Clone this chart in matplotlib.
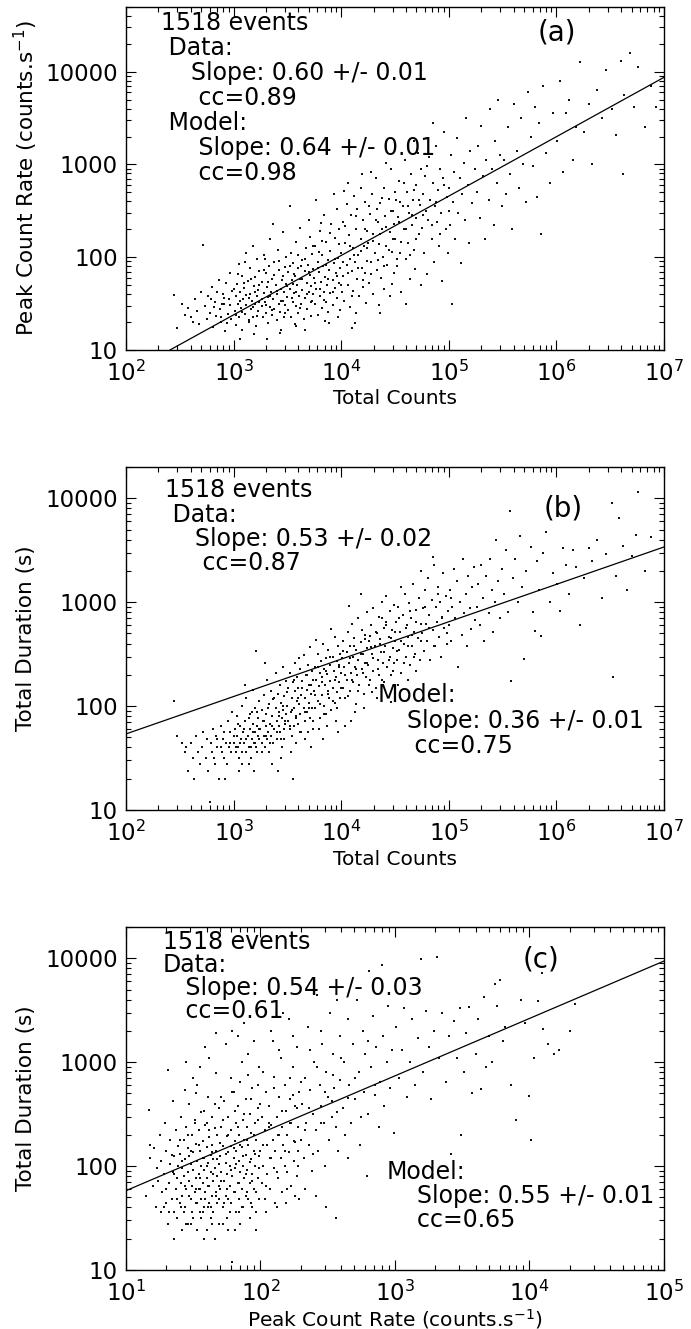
import matplotlib
matplotlib.use('Agg')
import matplotlib.pyplot as plt
import numpy as np
from matplotlib.ticker import LogLocator, NullFormatter, FuncFormatter

plt.rcParams.update({'font.family': 'DejaVu Sans', 'font.size': 14,
                     'mathtext.default': 'regular'})

# panel (a): (log10 total counts, log10 peak count rate)
pts_a = [
    (2.45, 1.59), (2.47, 1.24), (2.55, 1.38), (2.58, 1.45), (2.62, 1.30), (2.64, 1.55), (2.66, 1.42),
    (2.68, 1.28), (2.72, 2.13), (2.70, 1.62), (2.52, 1.50), (2.60, 1.35),
    (2.73, 1.47), (2.75, 1.33), (2.76, 1.58), (2.78, 1.40), (2.80, 1.68), (2.81, 1.25), (2.83, 1.52),
    (2.84, 1.37), (2.86, 1.75), (2.87, 1.44), (2.88, 1.30), (2.90, 1.60), (2.91, 1.49), (2.92, 1.20),
    (2.93, 1.72), (2.95, 1.39), (2.96, 1.55), (2.97, 1.83), (2.98, 1.33), (2.99, 1.64), (2.89, 1.50),
    (2.79, 1.55),
    (3.01, 1.42), (3.02, 1.58), (3.02, 1.27), (3.03, 1.71), (3.04, 1.50), (3.05, 1.93), (3.05, 1.36),
    (3.06, 1.62), (3.07, 1.45), (3.08, 1.80), (3.08, 1.21), (3.09, 1.55), (3.10, 1.67), (3.11, 1.39),
    (3.12, 2.05), (3.12, 1.48), (3.13, 1.74), (3.14, 1.30), (3.15, 1.60), (3.15, 1.88), (3.16, 1.44),
    (3.17, 1.53), (3.18, 2.12), (3.18, 1.35), (3.19, 1.69), (3.20, 1.49), (3.20, 1.79), (3.21, 1.26),
    (3.22, 1.58), (3.22, 1.98), (3.23, 1.42), (3.23, 1.65), (3.24, 1.52), (3.24, 1.85), (3.19, 1.17),
    (3.11, 1.95), (3.06, 1.12), (3.14, 1.56),
    (3.26, 1.47), (3.26, 1.73), (3.27, 1.35), (3.28, 1.61), (3.28, 2.02), (3.29, 1.52), (3.30, 1.83),
    (3.30, 1.40), (3.31, 1.68), (3.32, 1.29), (3.32, 1.57), (3.33, 1.91), (3.34, 1.46), (3.34, 2.20),
    (3.35, 1.63), (3.36, 1.38), (3.36, 1.77), (3.37, 1.55), (3.38, 1.95), (3.38, 1.44), (3.39, 1.70),
    (3.40, 1.32), (3.40, 1.60), (3.41, 2.08), (3.42, 1.50), (3.42, 1.86), (3.43, 1.41), (3.44, 1.66),
    (3.44, 1.22), (3.45, 1.75), (3.46, 1.53), (3.46, 2.27), (3.47, 1.62), (3.47, 1.36), (3.48, 1.89),
    (3.48, 1.48), (3.49, 1.71), (3.49, 2.00), (3.31, 1.12), (3.37, 2.36), (3.43, 1.18), (3.29, 1.98),
    (3.50, 1.57), (3.51, 1.84), (3.51, 1.43), (3.52, 1.66), (3.53, 2.05), (3.53, 1.35), (3.54, 1.75),
    (3.55, 1.52), (3.55, 1.94), (3.56, 1.61), (3.57, 1.28), (3.57, 1.80), (3.58, 2.16), (3.58, 1.47),
    (3.59, 1.70), (3.60, 1.88), (3.60, 1.40), (3.61, 1.58), (3.62, 2.31), (3.62, 1.77), (3.63, 1.50),
    (3.64, 1.97), (3.64, 1.65), (3.65, 1.33), (3.66, 1.85), (3.66, 1.56), (3.67, 2.10), (3.68, 1.72),
    (3.68, 1.44), (3.69, 1.92), (3.70, 1.62), (3.70, 2.40), (3.71, 1.81), (3.72, 1.37), (3.72, 1.69),
    (3.73, 2.03), (3.73, 1.53), (3.74, 1.87), (3.74, 1.60), (3.52, 2.55), (3.66, 1.22), (3.58, 1.26),
    (3.71, 2.22), (3.63, 1.91), (3.55, 1.71),
    (3.75, 1.78), (3.76, 1.49), (3.76, 2.12), (3.77, 1.66), (3.78, 1.95), (3.78, 1.38), (3.79, 1.84),
    (3.80, 2.28), (3.80, 1.58), (3.81, 1.73), (3.82, 2.02), (3.82, 1.45), (3.83, 1.90), (3.84, 1.63),
    (3.84, 2.45), (3.85, 1.79), (3.86, 1.52), (3.86, 2.16), (3.87, 1.70), (3.88, 1.97), (3.88, 1.41),
    (3.89, 1.86), (3.90, 2.07), (3.90, 1.61), (3.91, 2.36), (3.92, 1.75), (3.92, 1.48), (3.93, 1.94),
    (3.94, 2.21), (3.94, 1.67), (3.95, 1.83), (3.96, 2.52), (3.96, 1.56), (3.97, 1.99), (3.98, 1.72),
    (3.98, 2.30), (3.99, 1.88), (3.99, 1.43), (3.77, 2.62), (3.85, 1.31), (3.93, 2.68), (3.81, 2.37),
    (3.89, 1.29), (3.97, 1.35), (3.79, 2.06),
    (4.00, 2.05), (4.01, 1.62), (4.02, 2.38), (4.02, 1.80), (4.03, 1.53), (4.04, 2.15), (4.05, 1.92),
    (4.05, 2.57), (4.06, 1.70), (4.07, 2.24), (4.08, 1.46), (4.08, 1.98), (4.09, 2.46), (4.10, 1.85),
    (4.11, 2.10), (4.11, 1.64), (4.12, 2.66), (4.13, 1.29), (4.13, 1.95), (4.14, 2.30), (4.15, 1.76),
    (4.15, 2.52), (4.16, 2.02), (4.17, 1.58), (4.18, 2.20), (4.18, 2.75), (4.19, 1.88), (4.20, 2.40),
    (4.20, 1.68), (4.21, 2.12), (4.22, 2.60), (4.22, 1.83), (4.23, 1.51), (4.24, 2.28), (4.24, 1.96),
    (4.06, 2.80), (4.14, 1.40), (4.10, 1.24), (4.19, 2.90), (4.03, 2.71),
    (4.25, 2.15), (4.26, 1.72), (4.27, 2.47), (4.28, 1.95), (4.29, 2.68), (4.30, 1.60), (4.30, 2.25),
    (4.31, 2.05), (4.32, 2.85), (4.33, 1.86), (4.34, 2.38), (4.35, 1.48), (4.35, 2.14), (4.36, 2.58),
    (4.37, 1.78), (4.38, 2.30), (4.39, 2.00), (4.40, 2.75), (4.40, 1.66), (4.41, 2.44), (4.42, 2.12),
    (4.43, 1.92), (4.44, 2.63), (4.45, 2.27), (4.45, 1.58), (4.46, 2.95), (4.47, 2.06), (4.48, 2.50),
    (4.49, 1.83), (4.49, 2.36), (4.28, 2.92), (4.42, 3.02), (4.36, 1.40), (4.47, 1.71), (4.33, 2.52),
    (4.50, 2.20), (4.51, 2.62), (4.52, 1.90), (4.53, 2.43), (4.54, 2.82), (4.55, 2.05), (4.56, 1.62),
    (4.57, 2.55), (4.58, 2.30), (4.59, 3.05), (4.60, 1.98), (4.61, 2.70), (4.62, 2.15), (4.63, 2.48),
    (4.64, 1.76), (4.65, 2.90), (4.66, 2.35), (4.67, 2.62), (4.68, 2.08), (4.69, 1.87), (4.70, 2.78),
    (4.70, 2.42), (4.71, 3.12), (4.72, 2.25), (4.73, 2.56), (4.74, 1.70), (4.74, 2.95), (4.60, 1.50),
    (4.68, 3.25), (4.55, 2.60),
    (4.75, 2.32), (4.76, 2.68), (4.77, 2.05), (4.78, 2.88), (4.79, 2.50), (4.80, 1.82), (4.81, 2.40),
    (4.82, 3.08), (4.83, 2.62), (4.84, 2.20), (4.85, 2.80), (4.86, 1.95), (4.87, 2.55), (4.88, 3.20),
    (4.89, 2.38), (4.90, 2.72), (4.91, 2.12), (4.92, 2.95), (4.93, 2.48), (4.94, 1.74), (4.95, 2.85),
    (4.96, 3.35), (4.97, 2.30), (4.98, 2.65), (4.99, 2.05), (4.85, 3.45),
    (5.00, 2.75), (5.01, 2.35), (5.02, 3.10), (5.03, 1.50), (5.04, 2.60), (5.05, 2.92), (5.06, 2.20),
    (5.08, 3.28), (5.09, 2.48), (5.10, 2.85), (5.11, 1.94), (5.12, 2.68), (5.14, 3.02), (5.15, 2.40),
    (5.16, 3.50), (5.18, 2.78), (5.19, 2.15), (5.20, 3.15), (5.22, 2.58), (5.24, 2.95),
    (5.26, 2.70), (5.27, 3.20), (5.29, 2.42), (5.30, 3.42), (5.32, 2.88), (5.34, 2.20), (5.35, 3.05),
    (5.37, 2.62), (5.38, 3.60), (5.40, 2.95), (5.42, 2.35), (5.43, 3.25), (5.45, 2.80), (5.46, 3.70),
    (5.48, 3.10), (5.49, 2.55),
    (5.51, 3.05), (5.53, 2.68), (5.55, 3.40), (5.57, 2.90), (5.59, 2.30), (5.61, 3.65), (5.63, 3.15),
    (5.65, 2.75), (5.67, 3.50), (5.69, 3.00), (5.72, 2.60), (5.74, 3.78),
    (5.76, 3.30), (5.78, 2.98), (5.80, 3.62), (5.82, 2.65), (5.84, 3.45), (5.86, 2.25), (5.88, 3.85),
    (5.90, 3.12), (5.94, 2.80), (5.97, 3.55),
    (6.01, 3.25), (6.03, 3.90), (6.06, 2.92), (6.09, 3.55), (6.12, 3.70), (6.15, 3.05), (6.18, 3.40),
    (6.22, 4.10), (6.26, 3.35), (6.30, 3.65), (6.33, 3.00), (6.38, 3.80), (6.42, 3.50), (6.46, 4.02),
    (6.52, 3.60), (6.55, 3.32), (6.60, 4.12), (6.63, 3.75), (6.68, 4.20), (6.72, 3.62), (6.76, 4.05),
    (6.82, 3.40), (6.88, 3.85), (6.62, 2.90), (6.93, 3.62),
    # denser core
    (2.82, 1.46), (2.85, 1.63), (2.88, 1.36), (2.91, 1.56), (2.94, 1.29), (2.97, 1.48), (3.00, 1.66),
    (3.02, 1.38), (3.04, 1.82), (3.06, 1.53), (3.08, 1.41), (3.10, 1.72), (3.12, 1.59), (3.14, 1.32),
    (3.16, 1.77), (3.18, 1.46), (3.20, 1.62), (3.22, 1.37), (3.24, 1.70), (3.26, 1.55), (3.28, 1.86),
    (3.30, 1.48), (3.32, 1.73), (3.34, 1.58), (3.36, 1.43), (3.38, 1.81), (3.40, 1.64), (3.42, 1.96),
    (3.44, 1.53), (3.46, 1.80), (3.48, 1.40), (3.50, 1.69), (3.52, 1.91), (3.54, 1.56), (3.56, 1.82),
    (3.58, 1.62), (3.60, 2.02), (3.62, 1.45), (3.64, 1.77), (3.66, 1.98), (3.68, 1.60), (3.70, 1.84),
    (3.72, 1.52), (3.74, 2.12), (3.76, 1.72), (3.78, 1.88), (3.80, 1.66), (3.82, 2.18), (3.84, 1.54),
    (3.86, 1.92), (3.88, 1.76), (3.90, 2.26), (3.92, 1.62), (3.94, 1.98), (3.96, 1.80), (3.98, 2.14),
    (4.00, 1.70), (4.02, 1.95), (4.04, 2.34), (4.06, 1.83), (4.08, 2.12), (4.10, 1.58), (4.12, 2.02),
    (4.14, 2.44), (4.16, 1.88), (4.18, 2.07), (4.20, 1.75), (4.22, 2.30), (4.24, 2.10), (4.26, 2.55),
    (4.28, 1.82), (4.30, 2.18), (4.32, 2.40), (4.34, 1.97), (4.36, 2.25), (4.38, 2.64), (4.40, 1.90),
    (4.42, 2.33), (4.44, 2.08), (4.46, 2.50), (4.48, 2.20), (4.50, 2.70), (4.52, 1.98), (4.54, 2.38),
    (4.56, 2.16), (4.58, 2.80), (4.60, 2.30), (4.62, 2.55), (4.64, 2.02), (4.66, 2.46), (4.68, 2.72),
    (4.70, 2.20), (4.72, 2.62), (4.76, 2.45), (4.80, 2.98), (4.84, 2.35), (4.88, 2.60), (4.92, 2.25),
    (4.96, 2.78), (5.00, 2.50),
]

# panel (b): (log10 total counts, total duration in s)
pts_b = [
    (2.45, 112), (2.47, 52), (2.55, 36), (2.56, 40), (2.58, 24), (2.60, 44), (2.62, 32), (2.63, 20),
    (2.65, 52), (2.67, 36), (2.69, 28), (2.52, 44),
    (2.71, 40), (2.72, 56), (2.74, 32), (2.75, 48), (2.76, 24), (2.78, 12), (2.79, 44), (2.80, 36),
    (2.81, 60), (2.83, 28), (2.84, 52), (2.85, 40), (2.86, 20), (2.88, 64), (2.89, 36), (2.90, 48),
    (2.91, 32), (2.92, 20), (2.93, 44), (2.95, 72), (2.96, 40), (2.97, 56), (2.98, 36), (2.99, 88),
    (3.00, 44), (3.01, 60), (3.02, 36), (3.03, 52), (3.03, 80), (3.04, 40), (3.05, 32), (3.06, 64),
    (3.07, 48), (3.08, 100), (3.08, 28), (3.09, 56), (3.10, 44), (3.11, 72), (3.12, 36), (3.12, 120),
    (3.13, 52), (3.14, 40), (3.15, 84), (3.15, 60), (3.16, 32), (3.17, 48), (3.18, 68), (3.18, 144),
    (3.19, 44), (3.20, 56), (3.20, 96), (3.21, 40), (3.21, 340), (3.22, 64), (3.22, 36), (3.23, 76),
    (3.23, 52), (3.24, 112), (3.24, 48), (3.05, 24), (3.14, 28), (3.19, 24), (3.11, 160), (3.17, 88),
    (3.25, 60), (3.26, 92), (3.26, 44), (3.27, 72), (3.28, 52), (3.28, 128), (3.29, 40), (3.30, 64),
    (3.30, 84), (3.31, 48), (3.31, 180), (3.32, 56), (3.33, 104), (3.33, 36), (3.34, 68), (3.35, 140),
    (3.35, 52), (3.36, 80), (3.37, 44), (3.37, 116), (3.38, 60), (3.39, 96), (3.39, 210), (3.40, 72),
    (3.40, 48), (3.41, 132), (3.42, 64), (3.42, 88), (3.43, 160), (3.43, 56), (3.44, 108), (3.45, 76),
    (3.45, 40), (3.46, 240), (3.46, 92), (3.47, 60), (3.47, 124), (3.48, 68), (3.49, 176), (3.49, 84),
    (3.36, 28), (3.44, 32), (3.29, 260), (3.41, 24), (3.47, 48),
    (3.50, 100), (3.51, 72), (3.51, 148), (3.52, 60), (3.52, 210), (3.53, 88), (3.54, 120), (3.54, 52),
    (3.55, 170), (3.56, 96), (3.56, 64), (3.57, 140), (3.57, 260), (3.58, 80), (3.59, 112), (3.59, 190),
    (3.60, 68), (3.60, 150), (3.61, 104), (3.62, 230), (3.62, 84), (3.63, 128), (3.63, 56), (3.64, 175),
    (3.65, 96), (3.65, 310), (3.66, 120), (3.66, 72), (3.67, 200), (3.68, 144), (3.68, 88), (3.69, 250),
    (3.70, 108), (3.70, 160), (3.71, 76), (3.71, 370), (3.72, 132), (3.73, 220), (3.73, 96), (3.74, 180),
    (3.74, 60), (3.58, 44), (3.66, 48), (3.72, 40), (3.55, 20), (3.61, 290), (3.69, 56), (3.53, 36),
    (3.75, 140), (3.76, 240), (3.76, 96), (3.77, 180), (3.78, 320), (3.78, 112), (3.79, 156), (3.80, 210),
    (3.80, 76), (3.81, 270), (3.82, 128), (3.82, 190), (3.83, 400), (3.84, 100), (3.84, 230), (3.85, 160),
    (3.86, 290), (3.86, 84), (3.87, 205), (3.88, 140), (3.88, 350), (3.89, 120), (3.90, 250), (3.90, 176),
    (3.91, 92), (3.92, 300), (3.92, 150), (3.93, 220), (3.94, 460), (3.94, 108), (3.95, 190), (3.96, 270),
    (3.96, 136), (3.97, 380), (3.98, 170), (3.98, 240), (3.99, 120), (3.99, 320), (3.79, 60), (3.87, 64),
    (3.95, 72), (3.83, 48), (3.91, 550), (3.77, 430), (3.97, 56),
    (4.00, 210), (4.01, 290), (4.02, 150), (4.02, 420), (4.03, 240), (4.04, 120), (4.05, 330), (4.05, 180),
    (4.06, 520), (4.07, 260), (4.08, 140), (4.08, 380), (4.09, 210), (4.10, 620), (4.11, 300), (4.11, 170),
    (4.12, 450), (4.13, 240), (4.14, 104), (4.14, 350), (4.15, 200), (4.16, 700), (4.16, 280), (4.17, 160),
    (4.18, 410), (4.19, 230), (4.19, 540), (4.20, 320), (4.21, 130), (4.22, 260), (4.22, 480), (4.23, 190),
    (4.24, 360), (4.24, 800), (4.09, 72), (4.13, 88), (4.18, 1200), (4.04, 64), (4.21, 96), (4.07, 920),
    (4.25, 250), (4.26, 420), (4.27, 180), (4.28, 600), (4.29, 320), (4.30, 220), (4.30, 880), (4.31, 380),
    (4.32, 150), (4.33, 500), (4.34, 280), (4.35, 720), (4.35, 200), (4.36, 440), (4.37, 330), (4.38, 1000),
    (4.39, 260), (4.40, 560), (4.40, 170), (4.41, 380), (4.42, 650), (4.43, 240), (4.44, 460), (4.45, 820),
    (4.45, 300), (4.46, 200), (4.47, 540), (4.48, 360), (4.49, 950), (4.49, 260), (4.33, 120), (4.42, 1150),
    (4.29, 136), (4.46, 110), (4.38, 700), (4.27, 470),
    (4.50, 420), (4.51, 640), (4.52, 280), (4.53, 900), (4.54, 350), (4.55, 520), (4.56, 210), (4.57, 760),
    (4.58, 400), (4.59, 1200), (4.60, 300), (4.61, 600), (4.62, 460), (4.63, 980), (4.64, 250), (4.65, 700),
    (4.66, 380), (4.67, 1500), (4.68, 520), (4.69, 320), (4.70, 840), (4.71, 450), (4.72, 1100), (4.73, 280),
    (4.74, 620), (4.74, 2000), (4.62, 180), (4.56, 1400), (4.70, 220), (4.53, 160),
    (4.75, 500), (4.76, 880), (4.77, 340), (4.78, 1300), (4.79, 620), (4.80, 420), (4.81, 1700), (4.82, 760),
    (4.83, 280), (4.84, 1050), (4.85, 540), (4.86, 2300), (4.87, 380), (4.88, 900), (4.89, 640), (4.90, 1400),
    (4.91, 460), (4.92, 1000), (4.93, 300), (4.94, 720), (4.95, 1900), (4.96, 560), (4.97, 1150), (4.98, 400),
    (4.99, 820), (4.85, 2700),
    (5.00, 600), (5.01, 1300), (5.02, 420), (5.03, 900), (5.05, 2100), (5.06, 700), (5.08, 1600), (5.09, 240),
    (5.10, 1000), (5.12, 480), (5.13, 2600), (5.14, 780), (5.16, 1200), (5.17, 380), (5.18, 1800), (5.20, 880),
    (5.21, 550), (5.22, 1400), (5.23, 2200), (5.24, 680),
    (5.26, 900), (5.27, 1500), (5.29, 600), (5.30, 2300), (5.32, 1100), (5.33, 420), (5.35, 1800), (5.37, 780),
    (5.38, 2600), (5.40, 1300), (5.41, 520), (5.43, 1000), (5.44, 4000), (5.46, 1600), (5.48, 700), (5.49, 2100),
    (5.51, 1200), (5.53, 3200), (5.55, 800), (5.57, 7500), (5.58, 175), (5.60, 1700), (5.62, 2600), (5.64, 1000),
    (5.66, 4300), (5.68, 1400), (5.70, 285), (5.72, 2000),
    (5.76, 3400), (5.78, 800), (5.80, 530), (5.82, 2500), (5.84, 1300), (5.86, 470), (5.88, 3000), (5.90, 4700),
    (5.94, 1000), (5.97, 1900),
    (6.01, 1500), (6.03, 820), (6.06, 3300), (6.09, 2300), (6.12, 1200), (6.15, 3200), (6.18, 2200), (6.22, 600),
    (6.26, 1700), (6.30, 3300), (6.33, 2500), (6.38, 4000), (6.42, 1100), (6.46, 2900),
    (6.52, 9000), (6.53, 190), (6.55, 1800), (6.58, 6500), (6.62, 3500), (6.66, 1300), (6.70, 2800), (6.74, 4400),
    (6.76, 11500), (6.82, 2000), (6.88, 4200),
    # denser core
    (2.82, 32), (2.85, 48), (2.88, 40), (2.91, 56), (2.94, 28), (2.97, 44), (3.00, 52), (3.02, 40),
    (3.04, 68), (3.06, 44), (3.08, 36), (3.10, 60), (3.12, 48), (3.14, 76), (3.16, 40), (3.18, 56),
    (3.20, 44), (3.22, 88), (3.24, 60), (3.26, 36), (3.28, 72), (3.30, 52), (3.32, 96), (3.34, 44),
    (3.36, 64), (3.38, 120), (3.40, 56), (3.42, 80), (3.44, 48), (3.46, 100), (3.48, 72), (3.50, 136),
    (3.52, 64), (3.54, 92), (3.56, 180), (3.58, 76), (3.60, 120), (3.62, 56), (3.64, 148), (3.66, 88),
    (3.68, 200), (3.70, 96), (3.72, 160), (3.74, 72), (3.76, 128), (3.78, 240), (3.80, 104), (3.82, 170),
    (3.84, 84), (3.86, 220), (3.88, 130), (3.90, 300), (3.92, 112), (3.94, 180), (3.96, 96), (3.98, 250),
    (4.00, 150), (4.02, 340), (4.04, 200), (4.06, 124), (4.08, 290), (4.10, 180), (4.12, 380), (4.14, 230),
    (4.16, 140), (4.18, 320), (4.20, 210), (4.22, 440), (4.24, 260), (4.26, 160), (4.28, 370), (4.30, 290),
    (4.32, 520), (4.34, 230), (4.36, 400), (4.38, 180), (4.40, 330), (4.42, 600), (4.44, 280), (4.46, 450),
    (4.48, 220), (4.50, 520), (4.52, 340), (4.54, 700), (4.56, 420), (4.58, 260), (4.60, 560), (4.62, 380),
    (4.64, 820), (4.66, 480), (4.68, 300), (4.70, 650), (4.74, 420), (4.78, 900), (4.82, 560), (4.86, 380),
    (4.90, 1200), (4.94, 700), (4.98, 500), (5.02, 1100),
]

# panel (c): (log10 peak count rate, total duration in s)
pts_c = [
    (1.15, 52), (1.17, 350), (1.18, 120), (1.18, 160), (1.20, 64), (1.21, 150), (1.22, 40), (1.23, 96),
    (1.24, 72), (1.25, 200), (1.26, 36), (1.26, 112), (1.27, 56), (1.28, 84), (1.29, 260), (1.30, 44),
    (1.30, 140), (1.31, 28), (1.32, 68), (1.33, 104), (1.33, 180), (1.34, 48), (1.35, 88), (1.35, 420),
    (1.36, 36), (1.36, 124), (1.37, 60), (1.37, 220), (1.38, 76), (1.38, 32), (1.39, 100), (1.39, 156),
    (1.31, 840), (1.28, 40), (1.36, 20),
    (1.40, 44), (1.40, 132), (1.41, 68), (1.41, 300), (1.42, 52), (1.42, 96), (1.43, 36), (1.43, 180),
    (1.43, 80), (1.44, 116), (1.44, 40), (1.45, 240), (1.45, 60), (1.46, 88), (1.46, 148), (1.46, 28),
    (1.47, 72), (1.47, 400), (1.48, 104), (1.48, 48), (1.49, 200), (1.49, 64), (1.50, 136), (1.50, 32),
    (1.50, 92), (1.51, 56), (1.51, 280), (1.52, 76), (1.52, 164), (1.52, 44), (1.53, 112), (1.53, 600),
    (1.54, 60), (1.54, 220), (1.54, 84), (1.55, 36), (1.55, 140), (1.56, 100), (1.56, 48), (1.56, 330),
    (1.57, 68), (1.57, 176), (1.58, 120), (1.58, 40), (1.58, 92), (1.59, 250), (1.59, 56), (1.60, 152),
    (1.60, 76), (1.60, 24), (1.61, 108), (1.61, 460), (1.62, 64), (1.62, 190), (1.62, 44), (1.63, 128),
    (1.63, 88), (1.64, 300), (1.64, 52), (1.64, 160), (1.65, 72), (1.65, 36), (1.65, 116), (1.66, 232),
    (1.66, 96), (1.67, 56), (1.67, 140), (1.67, 780), (1.68, 80), (1.68, 44), (1.68, 200), (1.69, 104),
    (1.69, 64), (1.69, 360), (1.45, 1000), (1.50, 700), (1.55, 900), (1.58, 20), (1.62, 1100), (1.48, 28),
    (1.53, 24), (1.63, 32), (1.66, 20), (1.42, 24), (1.59, 1400), (1.67, 1900), (1.44, 540), (1.52, 500),
    (1.57, 36), (1.61, 40), (1.64, 28), (1.47, 124), (1.55, 60), (1.60, 260), (1.69, 48),
    (1.70, 124), (1.70, 60), (1.71, 240), (1.71, 88), (1.72, 40), (1.72, 156), (1.73, 72), (1.73, 420),
    (1.74, 108), (1.74, 52), (1.75, 196), (1.75, 84), (1.75, 32), (1.76, 136), (1.76, 300), (1.77, 64),
    (1.77, 100), (1.78, 220), (1.78, 44), (1.78, 156), (1.79, 2000), (1.79, 80), (1.80, 520), (1.80, 120),
    (1.80, 56), (1.81, 176), (1.81, 96), (1.82, 36), (1.82, 260), (1.82, 140), (1.83, 68), (1.83, 380),
    (1.84, 112), (1.84, 48), (1.84, 200), (1.85, 88), (1.85, 640), (1.86, 152), (1.86, 60), (1.87, 280),
    (1.87, 100), (1.87, 40), (1.88, 180), (1.88, 76), (1.89, 440), (1.89, 128), (1.90, 56), (1.90, 240),
    (1.90, 92), (1.91, 160), (1.91, 1200), (1.92, 68), (1.92, 320), (1.93, 116), (1.93, 44), (1.93, 208),
    (1.94, 84), (1.94, 560), (1.95, 140), (1.95, 60), (1.96, 260), (1.96, 100), (1.97, 180), (1.97, 36),
    (1.98, 360), (1.98, 76), (1.99, 124), (1.99, 900), (1.79, 12), (1.72, 28), (1.76, 24), (1.81, 24),
    (1.85, 28), (1.92, 32), (1.97, 24), (1.74, 1500), (1.83, 1800), (1.88, 2400), (1.95, 1600), (1.78, 700),
    (1.86, 1000), (1.91, 760), (1.76, 48), (1.84, 36), (1.89, 52), (1.94, 40), (1.99, 48), (1.71, 460),
    (1.81, 340), (1.98, 600),
    (2.00, 140), (2.01, 68), (2.01, 300), (2.02, 100), (2.03, 220), (2.03, 48), (2.04, 520), (2.05, 160),
    (2.05, 84), (2.06, 380), (2.07, 120), (2.07, 60), (2.08, 250), (2.08, 2000), (2.09, 180), (2.10, 96),
    (2.10, 720), (2.11, 140), (2.11, 44), (2.12, 300), (2.13, 200), (2.13, 76), (2.14, 460), (2.15, 120),
    (2.15, 1100), (2.16, 240), (2.16, 56), (2.17, 160), (2.18, 600), (2.18, 100), (2.19, 340), (2.20, 88),
    (2.20, 200), (2.21, 2600), (2.21, 136), (2.22, 440), (2.23, 64), (2.23, 260), (2.24, 900), (2.25, 176),
    (2.25, 112), (2.26, 380), (2.27, 80), (2.27, 1400), (2.28, 240), (2.28, 140), (2.29, 520), (2.29, 48),
    (2.04, 36), (2.12, 40), (2.19, 44), (2.26, 52), (2.09, 1600), (2.17, 3000), (2.24, 1800), (2.02, 800),
    (2.14, 1300), (2.22, 700), (2.06, 260), (2.27, 360),
    (2.30, 180), (2.31, 400), (2.32, 120), (2.33, 700), (2.34, 260), (2.35, 2200), (2.36, 160), (2.37, 540),
    (2.38, 90), (2.39, 320), (2.40, 1000), (2.41, 220), (2.42, 4400), (2.43, 140), (2.44, 600), (2.45, 380),
    (2.46, 1500), (2.47, 260), (2.48, 100), (2.49, 800), (2.50, 460), (2.51, 180), (2.52, 3000), (2.53, 300),
    (2.54, 1200), (2.55, 560), (2.56, 240), (2.57, 4000), (2.58, 140), (2.59, 680), (2.33, 60), (2.41, 52),
    (2.49, 40), (2.56, 32), (2.37, 1300), (2.45, 2000), (2.53, 420), (2.59, 1800),
    (2.61, 360), (2.62, 1000), (2.63, 200), (2.65, 2600), (2.66, 600), (2.67, 260), (2.69, 1500), (2.70, 440),
    (2.72, 4000), (2.73, 800), (2.74, 160), (2.76, 2000), (2.77, 520), (2.78, 1200), (2.80, 320), (2.81, 7500),
    (2.82, 900), (2.84, 2800), (2.85, 480), (2.86, 1400), (2.88, 240), (2.89, 640), (2.90, 8700), (2.91, 1800),
    (2.92, 380), (2.94, 1000), (2.95, 3500), (2.96, 560), (2.98, 1300), (2.99, 210), (2.65, 120), (2.79, 80),
    (3.01, 2200), (3.03, 700), (3.05, 1300), (3.07, 3300), (3.09, 460), (3.11, 1000), (3.13, 2600), (3.15, 600),
    (3.17, 1700), (3.19, 9800), (3.21, 800), (3.23, 3100), (3.25, 1400), (3.27, 440), (3.29, 2000), (3.31, 10200),
    (3.33, 1100), (3.35, 3000), (3.38, 650), (3.40, 1800), (3.42, 130), (3.44, 2500), (3.46, 1100), (3.48, 3300),
    (3.49, 200),
    (3.51, 800), (3.53, 1900), (3.55, 3400), (3.57, 500), (3.60, 1200), (3.62, 2600), (3.64, 550), (3.66, 4200),
    (3.68, 900), (3.70, 1800), (3.72, 1000), (3.74, 5600), (3.76, 3500), (3.78, 6200), (3.80, 1600), (3.82, 2200),
    (3.86, 600), (3.90, 280), (3.94, 4000), (3.97, 2400),
    (4.00, 470), (4.01, 180), (4.03, 1100), (4.06, 3900), (4.09, 7200), (4.10, 2100), (4.14, 1500), (4.18, 1200),
    (4.22, 1300), (4.30, 2000), (4.34, 3600),
    # denser core
    (1.30, 60), (1.32, 36), (1.34, 128), (1.36, 84), (1.38, 48), (1.40, 180), (1.41, 40), (1.42, 112),
    (1.44, 64), (1.45, 28), (1.46, 200), (1.47, 52), (1.48, 140), (1.49, 36), (1.50, 92), (1.51, 260),
    (1.52, 60), (1.53, 44), (1.54, 160), (1.55, 76), (1.56, 32), (1.57, 120), (1.58, 340), (1.59, 48),
    (1.60, 100), (1.61, 64), (1.62, 220), (1.63, 40), (1.64, 136), (1.65, 84), (1.66, 400), (1.67, 52),
    (1.68, 116), (1.69, 28), (1.70, 168), (1.71, 72), (1.72, 280), (1.73, 44), (1.74, 132), (1.75, 60),
    (1.76, 200), (1.77, 36), (1.78, 92), (1.79, 520), (1.80, 148), (1.81, 56), (1.82, 104), (1.83, 240),
    (1.84, 68), (1.85, 160), (1.86, 40), (1.87, 124), (1.88, 320), (1.89, 84), (1.90, 180), (1.91, 48),
    (1.92, 110), (1.93, 440), (1.94, 72), (1.95, 200), (1.96, 130), (1.97, 56), (1.98, 280), (1.99, 96),
    (2.00, 400), (2.02, 160), (2.04, 64), (2.06, 240), (2.08, 120), (2.10, 560), (2.12, 88), (2.14, 200),
    (2.16, 340), (2.18, 140), (2.20, 60), (2.22, 260), (2.24, 480), (2.26, 170), (2.28, 100), (2.30, 640),
    (2.33, 220), (2.36, 360), (2.39, 130), (2.42, 900), (2.45, 260), (2.48, 520), (2.51, 180), (2.54, 760),
    (2.57, 330), (2.60, 1100), (2.65, 450), (2.70, 700), (2.75, 300), (2.80, 1600), (2.85, 600),
]

# fitted power laws, drawn between two end points
fit_a = ([257, 1e7], [10, 8700])
fit_b = ([1e2, 1e7], [54, 3400])
fit_c = ([1e1, 1e5], [58, 9400])

# annotation blocks: (lines, x, y of block top in axes fraction, line spacing)
notes_a = [(['1518 events', ' Data:', '    Slope: 0.60 +/- 0.01', '     cc=0.89',
             ' Model:', '     Slope: 0.64 +/- 0.01', '     cc=0.98'], 0.065, 0.988, 1.05)]
notes_b = [(['1518 events', ' Data:', '    Slope: 0.53 +/- 0.02', '     cc=0.87'],
            0.072, 0.967, 1.02),
           (['Model:', '    Slope: 0.36 +/- 0.01', '     cc=0.75'], 0.467, 0.369, 1.06)]
notes_c = [(['1518 events', 'Data:', '   Slope: 0.54 +/- 0.03', '   cc=0.61'],
            0.069, 0.991, 0.94),
           (['Model:', '    Slope: 0.55 +/- 0.01', '    cc=0.65'], 0.485, 0.321, 0.99)]

rate_label = 'Peak Count Rate (counts.s$^{-1}$)'


def draw_panel(ax, x, y, xlim, ylim, fit, xlabel, ylabel, notes, tag, tagpos):
    ax.scatter(x, y, s=2.5, marker='s', c='#111111', linewidths=0)
    ax.plot(fit[0], fit[1], color='k', lw=0.9)
    ax.set_xscale('log')
    ax.set_yscale('log')
    ax.set_xlim(*xlim)
    ax.set_ylim(*ylim)
    ax.yaxis.set_major_locator(LogLocator(base=10, numticks=10))
    ax.yaxis.set_major_formatter(FuncFormatter(lambda v, _: '%d' % round(v)))
    for a in (ax.xaxis, ax.yaxis):
        a.set_minor_locator(LogLocator(base=10, subs=np.arange(2, 10), numticks=20))
        a.set_minor_formatter(NullFormatter())
    ax.tick_params(which='both', direction='in', top=True, right=True, width=0.8)
    ax.tick_params(which='major', length=7, labelsize=16.5)
    ax.tick_params(axis='x', which='major', pad=7.5)
    ax.tick_params(axis='y', which='major', pad=6)
    ax.tick_params(which='minor', length=3.5)
    for sp in ax.spines.values():
        sp.set_linewidth(1.0)
    ax.set_xlabel(xlabel, fontsize=14.5, va='center')
    ax.set_ylabel(ylabel, fontsize=15.5, va='center')
    ax.xaxis.set_label_coords(0.5, -0.143)
    ax.yaxis.set_label_coords(-0.186, 0.5)
    for lines, tx, ty, ls in notes:
        ax.text(tx, ty, '\n'.join(lines), transform=ax.transAxes, ha='left', va='top',
                fontsize=17, linespacing=ls)
    ax.text(tagpos[0], tagpos[1], tag, transform=ax.transAxes, ha='center', va='center', fontsize=20)


fig = plt.figure(figsize=(6.91, 13.29), dpi=100)
left, width, height = 0.1823, 0.7786, 0.2581

ax_a = fig.add_axes([left, 0.7367, width, height])
a = np.array(pts_a)
draw_panel(ax_a, 10 ** a[:, 0], 10 ** a[:, 1], (1e2, 1e7), (10, 5e4), fit_a,
           'Total Counts', rate_label, notes_a, '(a)', (0.80, 0.924))

ax_b = fig.add_axes([left, 0.3905, width, height])
b = np.array(pts_b)
draw_panel(ax_b, 10 ** b[:, 0], b[:, 1], (1e2, 1e7), (10, 2e4), fit_b,
           'Total Counts', 'Total Duration (s)', notes_b, '(b)', (0.813, 0.880))

ax_c = fig.add_axes([left, 0.0444, width, height])
c = np.array(pts_c)
draw_panel(ax_c, 10 ** c[:, 0], c[:, 1], (1e1, 1e5), (10, 2e4), fit_c,
           rate_label, 'Total Duration (s)', notes_c, '(c)', (0.772, 0.904))

fig.savefig('out.png', dpi=100)
